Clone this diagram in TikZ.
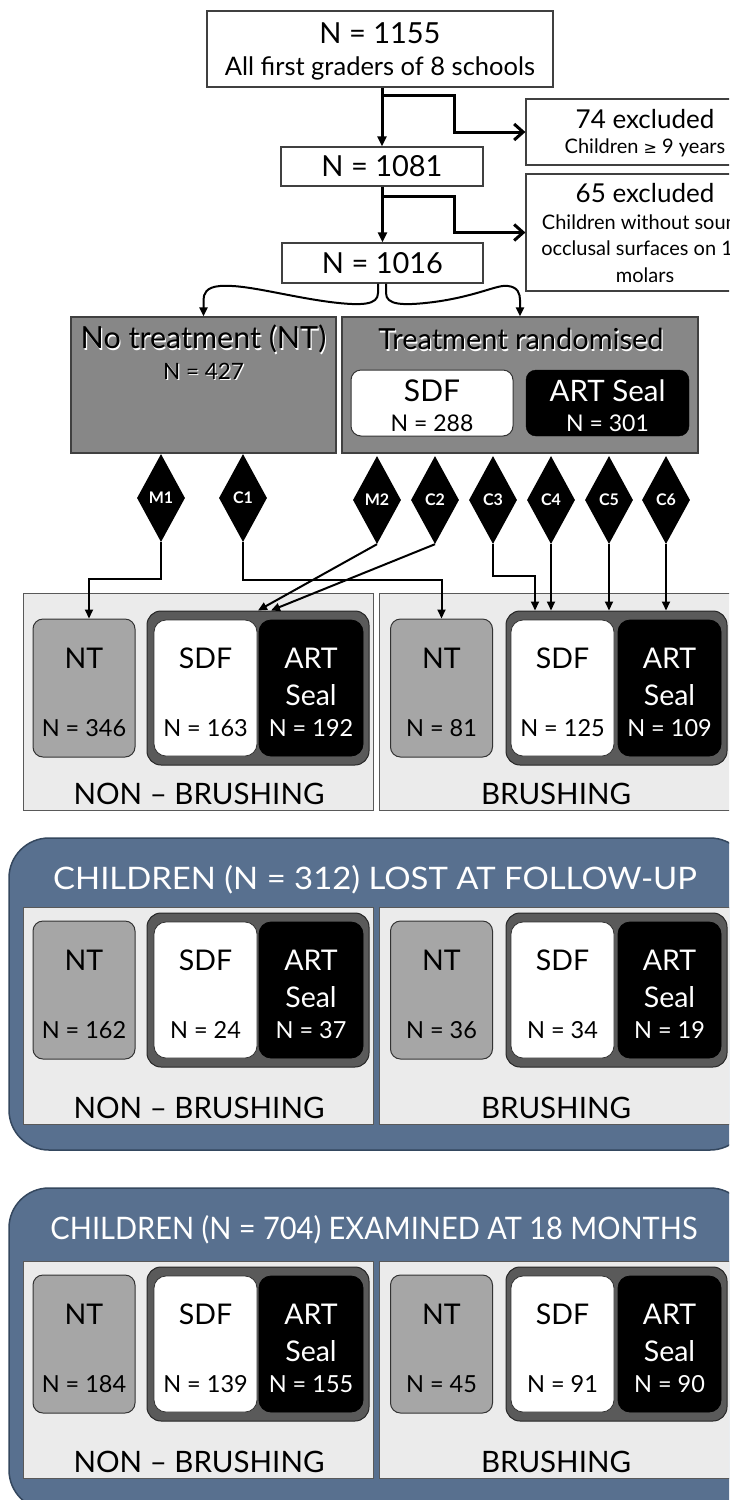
\documentclass[tikz,border=0pt]{standalone}
\usepackage{fontspec}
\setmainfont{Lato}
\newfontfamily\symfont{DejaVu Sans}
\usetikzlibrary{shapes.geometric,arrows.meta,calc}
\definecolor{ntgray}{HTML}{A6A6A6}
\definecolor{contgray}{HTML}{5A5A5A}
\definecolor{panelgray}{HTML}{EBEBEB}
\definecolor{biggray}{HTML}{878787}
\definecolor{blueP}{HTML}{58708F}
\definecolor{blueB}{HTML}{34475E}
\newcommand{\fsz}[1]{\fontsize{#1}{#1}\selectfont}
\newcommand{\emb}[1]{\rlap{\hspace{1.2pt}\raisebox{-1.2pt}{\color{white}#1}}#1}
\tikzset{
  wbox/.style={draw=black!75, line width=1.2pt, fill=white, inner sep=0pt},
  graybig/.style={draw=black!75, line width=1.2pt, fill=biggray, inner sep=0pt},
  panel/.style={draw=black!65, line width=1pt, fill=panelgray, inner sep=0pt},
  ntbox/.style={draw=black!80, line width=1pt, fill=ntgray, rounded corners=10pt, minimum width=102, minimum height=138, inner sep=0pt},
  contbox/.style={draw=black!85, line width=1pt, fill=contgray, rounded corners=14pt, minimum height=154, inner sep=0pt},
  sdfbox/.style={draw=black!80, line width=0.8pt, fill=white, rounded corners=12pt, minimum width=103, minimum height=136, inner sep=0pt},
  artbox/.style={draw=black, line width=0.8pt, fill=black, rounded corners=12pt, minimum width=104, minimum height=136, inner sep=0pt},
  bluebox/.style={draw=blueB, line width=1.5pt, fill=blueP, rounded corners=40pt, inner sep=0pt},
  dia/.style={diamond, fill=black, minimum width=48, minimum height=88, inner sep=0pt, text=white, font=\fsz{16}\bfseries},
  bigt/.style={inner sep=0pt, font=\fsz{28.5}},
  smallt/.style={inner sep=0pt, font=\fsz{23.5}},
  labt/.style={inner sep=0pt, font=\fsz{29.5}},
  txt/.style={inner sep=0pt},
  darr/.style={draw=black, line width=3pt, -{Triangle[length=10pt,width=9pt]}},
  sarr/.style={draw=black, line width=3pt, -{Straight Barb[length=9pt,width=16pt]}},
  carr/.style={draw=black, line width=2pt, -{Triangle[length=9pt,width=8pt]}},
}
\newcommand{\grouprow}[9]{%
  \node[panel, minimum width=350, minimum height=217] (#1PL) at (198,{#2+108.5}) {};
  \node[panel, minimum width=366, minimum height=217] (#1PR) at (562,{#2+108.5}) {};
  \node[ntbox] (#1NL) at (84,{#3+77}) {};
  \node[contbox, minimum width=222] (#1CL) at (258,{#3+77}) {};
  \node[sdfbox] (#1SL) at (205.5,{#3+77}) {};
  \node[artbox] (#1AL) at (311,{#3+77}) {};
  \node[ntbox] (#1NR) at (441.5,{#3+77}) {};
  \node[contbox, minimum width=221] (#1CR) at (616.5,{#3+77}) {};
  \node[sdfbox] (#1SR) at (562.5,{#3+77}) {};
  \node[artbox, minimum width=103] (#1AR) at (669.5,{#3+77}) {};
  \node[bigt] (#1NLa) at (84,{#3+47}) {NT};
  \node[smallt] (#1NLb) at (84,{#3+117}) {N = #4};
  \node[bigt] (#1SLa) at (205.5,{#3+47}) {SDF};
  \node[smallt] (#1SLb) at (205.5,{#3+117}) {N = #5};
  \node[bigt, text=white] (#1ALa) at (311,{#3+47}) {ART};
  \node[bigt, text=white] (#1ALs) at (311,{#3+84}) {Seal};
  \node[smallt, text=white] (#1ALb) at (311,{#3+117}) {N = #6};
  \node[bigt] (#1NRa) at (441.5,{#3+47}) {NT};
  \node[smallt] (#1NRb) at (441.5,{#3+117}) {N = #7};
  \node[bigt] (#1SRa) at (562.5,{#3+47}) {SDF};
  \node[smallt] (#1SRb) at (562.5,{#3+117}) {N = #8};
  \node[bigt, text=white] (#1ARa) at (669.5,{#3+47}) {ART};
  \node[bigt, text=white] (#1ARs) at (669.5,{#3+84}) {Seal};
  \node[smallt, text=white] (#1ARb) at (669.5,{#3+117}) {N = #9};
  \node[labt] (#1LL) at (199,{#2+201}) {NON – BRUSHING};
  \node[labt] (#1LR) at (556,{#2+201}) {BRUSHING};
}
\begin{document}
\begin{tikzpicture}[x=1pt,y=-1pt]
\clip (0,0) rectangle (729,1500);
\fill[white] (0,0) rectangle (729,1500);

% ---------- top flow ----------
\node[wbox, minimum width=346, minimum height=76] (top) at (380,49) {};
\node[txt, font=\fsz{29}] (topa) at (380,33) {N = 1155};
\node[txt, font=\fsz{25.5}] (topb) at (380,68) {All first graders of 8 schools};

\node[wbox, minimum width=202, minimum height=39] (n1081) at (382,166.5) {};
\node[txt, font=\fsz{29}] (n1081t) at (382,166.5) {N = 1081};

\node[wbox, minimum width=201, minimum height=40] (n1016) at (382.5,263) {};
\node[txt, font=\fsz{29}] (n1016t) at (382.5,263) {N = 1016};

\node[wbox, minimum width=238, minimum height=66] (ex1) at (645,132) {};
\node[txt, font=\fsz{26}] (ex1a) at (645,119) {74 excluded};
\node[txt, font=\fsz{20}] (ex1b) at (645,148) {Children {\symfont\fsz{16}≥} 9 years};

\node[wbox, minimum width=238, minimum height=117] (ex2) at (645,232.5) {};
\node[txt, font=\fsz{26}] (ex2a) at (645,193) {65 excluded};
\node[txt, font=\fsz{20}] (ex2b) at (645,222) {Children without sound};
\node[txt, font=\fsz{20}] (ex2c) at (645,248) {occlusal surfaces on 1st};
\node[txt, font=\fsz{20}] (ex2d) at (645,275) {molars};

\draw[darr] (n1081.north |- top.south) -- (n1081.north);
\coordinate (b1) at (382,95);
\draw[sarr] (b1) -- ++(72,0) |- (ex1.west);
\draw[darr] (n1016.north |- n1081.south) -- (n1016.north);
\coordinate (b2) at (382,196);
\draw[sarr] (b2) -- ++(72,0) |- (ex2.west);

% ---------- allocation ----------
\node[graybig, minimum width=265, minimum height=136] (ntbig) at (203.5,385) {};
\node[graybig, minimum width=356, minimum height=136] (trbig) at (520,385) {};
\node[txt, font=\fsz{30.5}] (ntbiga) at (203.5,340) {\emb{No treatment (NT)}};
\node[txt, font=\fsz{22.5}] (ntbigb) at (203.5,372) {\emb{N = 427}};
\node[txt, font=\fsz{29}] (trbiga) at (521,340) {\emb{Treatment randomised}};
\node[draw=black!80, line width=1pt, fill=white, rounded corners=10pt, minimum width=162, minimum height=66, inner sep=0pt] (sdfbig) at (432,403) {};
\node[draw=black, fill=black, rounded corners=10pt, minimum width=163, minimum height=66, inner sep=0pt] (artbig) at (607.5,403) {};
\node[txt, font=\fsz{30}] (sdfbiga) at (432,391) {SDF};
\node[txt, font=\fsz{23}] (sdfbigb) at (432,423) {N = 288};
\node[txt, font=\fsz{29.5}, text=white] (artbiga) at (607.5,391) {ART Seal};
\node[txt, font=\fsz{23}, text=white] (artbigb) at (607.5,423) {N = 301};

\draw[carr] ([xshift=-4.5pt]n1016.south) -- (378,293)
  .. controls (378,305) and (362,306) .. (330,302)
  .. controls (285,296) and (245,284) .. (220,286)
  .. controls (206,287) and (203.5,294) .. (203.5,300) -- (ntbig.north);
\draw[carr] ([xshift=3.5pt]n1016.south) -- (386,293)
  .. controls (386,305) and (402,306) .. (434,302)
  .. controls (478,296) and (498,284) .. (508,286)
  .. controls (518,287) and (520,294) .. (520,300) -- (trbig.north);

% ---------- diamonds ----------
\node[dia] (m1) at (161,498) {M1};
\node[dia] (c1) at (243,498) {C1};
\node[dia] (m2) at (377,500) {M2};
\node[dia] (c2) at (435,500) {C2};
\node[dia] (c3) at (493,500) {C3};
\node[dia] (c4) at (551,500) {C4};
\node[dia] (c5) at (609,500) {C5};
\node[dia] (c6) at (666,500) {C6};

% ---------- blue panels ----------
\node[bluebox, minimum width=741, minimum height=312] (blue1) at (379.5,994) {};
\node[txt, font=\fsz{31}, text=white] (blue1t) at (375,880) {\scalebox{1.06}[1]{CHILDREN (N = 312) LOST AT FOLLOW-UP}};
\node[bluebox, minimum width=741, minimum height=322] (blue2) at (379.5,1349) {};
\node[txt, font=\fsz{31}, text=white] (blue2t) at (374,1230) {\scalebox{0.935}[1]{CHILDREN (N = 704) EXAMINED AT 18 MONTHS}};

% ---------- rows ----------
\grouprow{ra}{593}{611}{346}{163}{192}{81}{125}{109}
\grouprow{rb}{907}{913}{162}{24}{37}{36}{34}{19}
\grouprow{rc}{1261}{1267}{184}{139}{155}{45}{91}{90}

% ---------- connectors to first row ----------
\draw[carr] (m1.south) -- ++(0,37) -| ([xshift=5pt]raNL.north);
\draw[carr] (c1.south) -- ++(0,38) -| (raNR.north);
\draw[carr] (m2.south) -- (raCL.north);
\draw[carr] (c2.south) -- ([xshift=13pt]raCL.north);
\draw[carr] (c3.south) -- ++(0,32) -| ([xshift=-81.5pt]raCR.north);
\draw[carr] (c4.south) -- (c4.south |- raCR.north);
\draw[carr] (c5.south) -- (c5.south |- raCR.north);
\draw[carr] (c6.south) -- (c6.south |- raCR.north);
\end{tikzpicture}
\end{document}
